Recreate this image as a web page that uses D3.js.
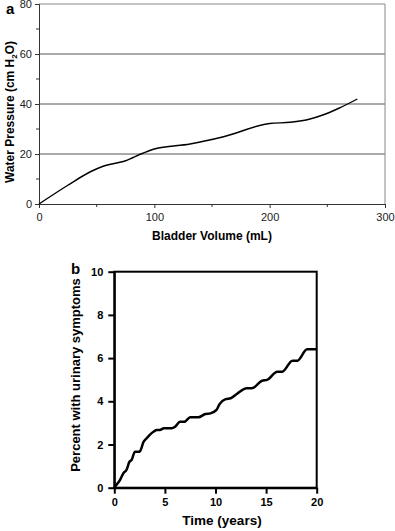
<!DOCTYPE html>
<html>
<head>
<meta charset="utf-8">
<script src="https://cdn.jsdelivr.net/npm/d3@7"></script>
<style>
  body { margin: 0; background: #fff; }
  svg { display: block; font-family: "Liberation Sans", Arial, sans-serif; }
</style>
</head>
<body>
<div id="vis"></div>
<script>
// panel a: bladder volume vs water pressure
var volume = [0, 25, 45, 55, 75, 90, 100, 131, 160, 200, 218, 235, 246, 260, 276];
var pressure = [0, 7.5, 13, 15, 17.3, 20.3, 22, 24, 26.9, 32.2, 32.7, 34, 35.6, 38.3, 42];
var aXTicks = [0, 100, 200, 300];
var aYTicks = [0, 20, 40, 60, 80];

// panel b: cumulative percent with urinary symptoms
var years = [0, 0.07, 0.57, 0.9, 1.2, 1.5, 1.7, 2.05, 2.5, 2.9, 3.2, 3.9, 4.2, 4.5, 4.9, 5.7, 6.0, 6.5, 6.9, 7.5, 8.3, 9.0, 9.5, 10.1, 10.4, 11.0, 11.5, 12.1, 13.1, 13.6, 14.6, 15.1, 16.1, 16.6, 17.6, 18.1, 19.05, 20];
var percent = [0, 0.05, 0.36, 0.67, 0.82, 1.2, 1.28, 1.67, 1.67, 2.13, 2.29, 2.6, 2.67, 2.67, 2.75, 2.75, 2.82, 3.05, 3.05, 3.26, 3.26, 3.41, 3.44, 3.6, 3.87, 4.1, 4.14, 4.34, 4.6, 4.6, 4.95, 4.99, 5.37, 5.37, 5.88, 5.88, 6.41, 6.41];
var bXTicks = [0, 5, 10, 15, 20];
var bYTicks = [0, 2, 4, 6, 8, 10];

var svg = d3.select('#vis')
    .append('svg')
    .attr('width', 395)
    .attr('height', 531);

/* ****** Panel a ****** */
var xA = d3.scaleLinear().domain([0, 300]).range([39, 385]);
var yA = d3.scaleLinear().domain([0, 80]).range([204, 4]);

// gridlines
svg.append('g')
    .selectAll('line')
    .data([20, 40, 60])
    .enter()
    .append('line')
    .attr('x1', xA(0)).attr('x2', xA(300))
    .attr('y1', function(d) { return yA(d); })
    .attr('y2', function(d) { return yA(d); })
    .attr('stroke', '#555')
    .attr('stroke-width', 1);

// frame top + right
svg.append('path')
    .attr('d', 'M' + xA(0) + ',' + yA(80) + 'H' + xA(300) + 'V' + yA(0))
    .attr('fill', 'none')
    .attr('stroke', '#888')
    .attr('stroke-width', 1);

var aXAxis = d3.axisBottom(xA).tickValues(aXTicks).tickSize(4).tickPadding(5);
var aYAxis = d3.axisLeft(yA).tickValues(aYTicks).tickSize(4).tickPadding(3);

var gax = svg.append('g').attr('transform', 'translate(0,' + yA(0) + ')').call(aXAxis);
var gay = svg.append('g').attr('transform', 'translate(' + xA(0) + ',0)').call(aYAxis);
[gax, gay].forEach(function(g) {
    g.select('.domain').attr('stroke', '#333');
    g.selectAll('.tick line').attr('stroke', '#333');
    g.selectAll('.tick text').attr('font-size', 11).attr('fill', '#222');
});
// minor ticks
svg.append('g').selectAll('line').data([50, 150, 250]).enter().append('line')
    .attr('x1', function(d) { return xA(d); }).attr('x2', function(d) { return xA(d); })
    .attr('y1', yA(0)).attr('y2', yA(0) + 3).attr('stroke', '#333');
svg.append('g').selectAll('line').data([10, 30, 50, 70]).enter().append('line')
    .attr('y1', function(d) { return yA(d); }).attr('y2', function(d) { return yA(d); })
    .attr('x1', xA(0)).attr('x2', xA(0) - 3).attr('stroke', '#333');

var lineA = d3.line()
    .x(function(d, i) { return xA(volume[i]); })
    .y(function(d, i) { return yA(pressure[i]); })
    .curve(d3.curveMonotoneX);

svg.append('path')
    .datum(volume)
    .attr('d', lineA)
    .attr('fill', 'none')
    .attr('stroke', '#000')
    .attr('stroke-width', 1.4);

svg.append('text')
    .attr('x', 212).attr('y', 240)
    .attr('text-anchor', 'middle')
    .attr('font-size', 12).attr('font-weight', 'bold')
    .text('Bladder Volume (mL)');

var yTitleA = svg.append('text')
    .attr('transform', 'translate(14,183) rotate(-90)')
    .attr('text-anchor', 'start')
    .attr('font-size', 12).attr('font-weight', 'bold');
yTitleA.append('tspan').text('Water Pressure (cm H');
yTitleA.append('tspan').attr('font-size', 8).attr('dy', 3).text('2');
yTitleA.append('tspan').attr('dy', -3).text('O)');
// shrink title so it spans about 150px like the original
var tLen = yTitleA.node().getComputedTextLength();
if (tLen > 152) yTitleA.attr('font-size', 12 * 150 / tLen);

svg.append('text')
    .attr('x', 6).attr('y', 14)
    .attr('font-size', 15).attr('font-weight', 'bold')
    .text('a');

/* ****** Panel b ****** */
var xB = d3.scaleLinear().domain([0, 20]).range([114.3, 316.7]);
var yB = d3.scaleLinear().domain([0, 10]).range([487.7, 271.7]);

svg.append('rect')
    .attr('x', xB(0)).attr('y', yB(10))
    .attr('width', xB(20) - xB(0)).attr('height', yB(0) - yB(10))
    .attr('fill', 'none')
    .attr('stroke', '#000')
    .attr('stroke-width', 2);

var bXAxis = d3.axisBottom(xB).tickValues(bXTicks).tickSize(6).tickPadding(5).tickSizeOuter(0);
var bYAxis = d3.axisLeft(yB).tickValues(bYTicks).tickSize(6).tickPadding(5).tickSizeOuter(0);

var gbx = svg.append('g').attr('transform', 'translate(0,' + yB(0) + ')').call(bXAxis);
var gby = svg.append('g').attr('transform', 'translate(' + xB(0) + ',0)').call(bYAxis);
[gbx, gby].forEach(function(g) {
    g.select('.domain').attr('stroke', '#000').attr('stroke-width', 2);
    g.selectAll('.tick line').attr('stroke', '#000').attr('stroke-width', 2);
    g.selectAll('.tick text').attr('font-size', 11).attr('font-weight', 'bold').attr('fill', '#000');
});

var lineB = d3.line()
    .x(function(d, i) { return xB(years[i]); })
    .y(function(d, i) { return yB(percent[i]); })
    .curve(d3.curveMonotoneX);

svg.append('path')
    .datum(years)
    .attr('d', lineB)
    .attr('fill', 'none')
    .attr('stroke', '#000')
    .attr('stroke-width', 2.5)
    .attr('stroke-linejoin', 'round');

svg.append('text')
    .attr('x', 222).attr('y', 525)
    .attr('text-anchor', 'middle')
    .attr('font-size', 13.5).attr('font-weight', 'bold')
    .text('Time (years)');

svg.append('text')
    .attr('transform', 'translate(80,375) rotate(-90)')
    .attr('text-anchor', 'middle')
    .attr('font-size', 13).attr('font-weight', 'bold')
    .text('Percent with urinary symptoms');

svg.append('text')
    .attr('x', 71).attr('y', 274)
    .attr('font-size', 15).attr('font-weight', 'bold')
    .text('b');
</script>
</body>
</html>
